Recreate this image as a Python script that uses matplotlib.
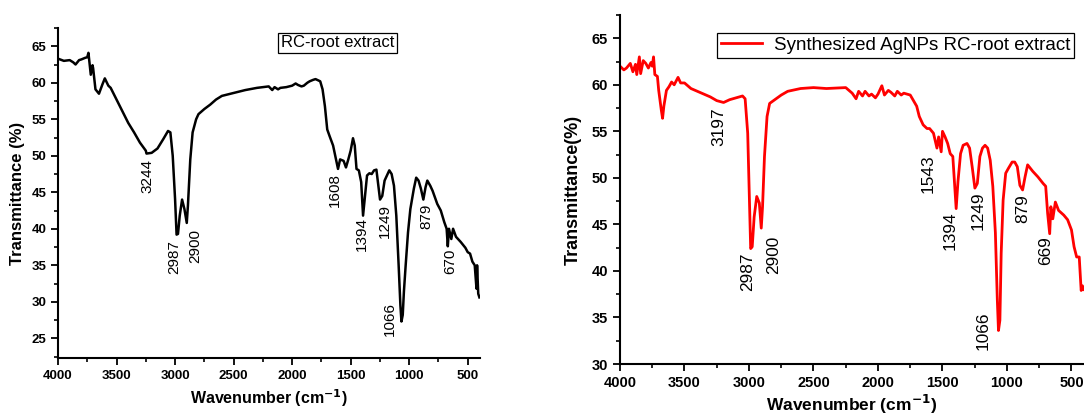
import matplotlib
matplotlib.use("Agg")
import matplotlib.pyplot as plt
from matplotlib.ticker import MultipleLocator
from matplotlib.font_manager import FontProperties

plt.rcParams['font.family'] = ['Liberation Sans', 'DejaVu Sans']

# RC-root extract (black)
wn_rc = [4000, 3950, 3900, 3870, 3850, 3820, 3800, 3770, 3750, 3740, 3730, 3720, 3705, 3700,
         3680, 3650, 3620, 3600, 3570, 3550, 3500, 3450, 3400, 3350, 3300, 3250, 3244,
         3200, 3150, 3100, 3060, 3040, 3020, 3000, 2987, 2975, 2960, 2940, 2920, 2900,
         2890, 2870, 2850, 2820, 2800, 2750, 2700, 2650, 2600, 2500, 2400, 2300, 2200,
         2170, 2150, 2120, 2100, 2050, 2000, 1970, 1950, 1920, 1900, 1870, 1850, 1820,
         1800, 1760, 1740, 1720, 1700, 1680, 1650, 1620, 1608, 1590, 1560, 1540, 1520,
         1500, 1480, 1465, 1450, 1430, 1410, 1394, 1380, 1360, 1340, 1320, 1300, 1280,
         1260, 1249, 1230, 1210, 1190, 1170, 1150, 1130, 1110, 1090, 1075, 1066, 1055,
         1045, 1030, 1010, 990, 960, 940, 920, 900, 879, 860, 845, 820, 800, 760, 730,
         700, 680, 670, 660, 640, 625, 600, 560, 520, 500, 480, 460, 440, 425, 420, 410, 400]
t_rc = [63.3, 63.0, 63.1, 62.8, 62.5, 63.1, 63.2, 63.4, 63.5, 64.1, 62.6, 61.1, 62.4, 62.0,
        59.1, 58.5, 59.8, 60.6, 59.6, 59.3, 57.7, 56.1, 54.5, 53.2, 51.8, 50.7, 50.3,
        50.4, 51.0, 52.3, 53.4, 53.2, 50.0, 44.1, 39.2, 39.3, 41.8, 44.0, 42.7, 40.8,
        43.2, 49.5, 53.2, 55.0, 55.7, 56.4, 57.0, 57.7, 58.2, 58.6, 59.0, 59.3, 59.5,
        59.0, 59.4, 59.1, 59.3, 59.4, 59.6, 59.9, 59.7, 59.5, 59.6, 60.0, 60.2, 60.4,
        60.5, 60.2, 59.1, 56.8, 53.6, 52.7, 51.4, 49.1, 48.2, 49.5, 49.3, 48.4, 49.5,
        50.7, 52.4, 51.4, 48.2, 48.0, 46.4, 41.8, 44.1, 47.3, 47.6, 47.5, 48.0, 48.1,
        45.5, 44.0, 44.5, 46.6, 47.3, 48.0, 47.5, 45.9, 41.8, 35.0, 29.5, 27.3, 28.2,
        31.4, 35.0, 39.5, 42.7, 45.5, 47.0, 46.6, 45.5, 44.0, 45.7, 46.6, 45.9, 45.2,
        43.4, 42.5, 40.9, 40.0, 37.6, 40.0, 38.6, 40.0, 38.9, 38.2, 37.4, 36.8, 36.6,
        35.5, 35.0, 31.8, 35.0, 31.1, 30.6]

# Synthesized AgNPs RC-root extract (red)
wn_ag = [4000, 3970, 3950, 3920, 3900, 3880, 3870, 3850, 3840, 3820, 3800, 3780, 3760, 3750,
         3740, 3730, 3710, 3700, 3680, 3670, 3660, 3640, 3620, 3600, 3580, 3550, 3530,
         3500, 3450, 3400, 3350, 3300, 3250, 3197, 3150, 3100, 3050, 3030, 3010, 3000,
         2987, 2975, 2960, 2940, 2920, 2905, 2895, 2880, 2860, 2840, 2800, 2750, 2700,
         2600, 2500, 2400, 2250, 2200, 2180, 2170, 2150, 2120, 2100, 2070, 2050, 2020,
         2000, 1970, 1950, 1920, 1900, 1870, 1850, 1820, 1800, 1750, 1700, 1680, 1650,
         1620, 1600, 1570, 1543, 1530, 1510, 1500, 1480, 1460, 1440, 1420, 1405, 1394,
         1380, 1360, 1340, 1310, 1290, 1270, 1249, 1230, 1210, 1190, 1170, 1150, 1130,
         1110, 1090, 1075, 1066, 1055, 1045, 1030, 1010, 990, 960, 940, 920, 900, 879,
         860, 840, 800, 760, 720, 700, 685, 669, 660, 645, 625, 600, 560, 530, 500, 480,
         460, 440, 425, 415, 405]
t_ag = [62.0, 61.6, 61.8, 62.3, 61.4, 62.2, 61.1, 63.0, 61.2, 62.6, 62.3, 61.8, 62.4, 62.0,
        63.0, 61.1, 60.9, 59.4, 57.3, 56.4, 57.7, 59.4, 59.8, 60.3, 60.0, 60.8, 60.2,
        60.2, 59.6, 59.3, 59.0, 58.7, 58.3, 58.1, 58.4, 58.6, 58.8, 58.5, 54.8, 49.4,
        42.4, 42.6, 45.8, 48.0, 47.3, 44.6, 46.9, 52.3, 56.6, 58.0, 58.4, 58.9, 59.3,
        59.6, 59.7, 59.6, 59.7, 59.1, 58.7, 58.5, 59.3, 58.8, 59.3, 58.8, 59.0, 58.6,
        59.0, 59.9, 58.9, 59.4, 59.2, 58.8, 59.3, 58.9, 59.1, 58.9, 57.7, 56.6, 55.7,
        55.3, 55.3, 54.8, 53.2, 54.4, 52.8, 55.0, 54.4, 53.7, 52.6, 52.3, 49.0, 46.7,
        49.6, 52.6, 53.5, 53.7, 53.2, 51.2, 48.9, 49.4, 52.3, 53.2, 53.5, 53.2, 51.9,
        49.1, 44.1, 36.9, 33.6, 34.7, 41.9, 47.6, 50.5, 51.0, 51.7, 51.7, 51.2, 49.2, 48.7,
        50.1, 51.4, 50.7, 50.1, 49.4, 49.1, 46.2, 44.0, 46.9, 45.6, 47.4, 46.5, 46.0, 45.5,
        44.4, 42.6, 41.5, 41.5, 37.9, 38.4, 38.0]

rc_peaks = ['3244', '2987', '2900', '1608', '1394', '1249', '1066', '879', '670']
ag_peaks = ['3197', '2987', '2900', '1543', '1394', '1249', '1066', '879', '669']

x_ticks = [4000, 3500, 3000, 2500, 2000, 1500, 1000, 500]
rc_yticks = [25, 30, 35, 40, 45, 50, 55, 60, 65]
ag_yticks = [30, 35, 40, 45, 50, 55, 60, 65]

# label anchor positions (x, top of text)
rc_pos = [(3237, 49.6), (3009, 38.4), (2829, 40.0), (1637, 47.7), (1403, 41.6),
          (1209, 43.4), (1166, 30.0), (851, 43.4), (651, 37.3)]
ag_pos = [(3232, 57.6), (3013, 42.0), (2806, 43.8), (1612, 52.5), (1444, 46.4),
          (1224, 48.5), (1185, 35.6), (875, 48.3), (700, 43.7)]

fig = plt.figure(figsize=(10.84, 4.17), dpi=100)
ax1 = fig.add_axes([58/1084, 1-358/417, 422/1084, 330/417])
ax2 = fig.add_axes([620/1084, 1-364/417, 464/1084, 349/417])


def style(ax, yticks, tsize):
    for s in ['top', 'right']:
        ax.spines[s].set_visible(False)
    for s in ['left', 'bottom']:
        ax.spines[s].set_linewidth(1.5)
    fp = FontProperties(family='Liberation Sans', weight='bold', size=tsize)
    ax.set_xticks(x_ticks, [str(v) for v in x_ticks], fontproperties=fp)
    ax.set_yticks(yticks, [str(v) for v in yticks], fontproperties=fp)
    ax.xaxis.set_minor_locator(MultipleLocator(250))
    ax.yaxis.set_minor_locator(MultipleLocator(2.5))
    ax.tick_params(which='major', direction='out', length=5, width=1.3)
    ax.tick_params(which='minor', direction='out', length=3, width=1.2)


# left panel
ax1.plot(wn_rc, t_rc, color='black', lw=1.8)
style(ax1, rc_yticks, 9.5)
ax1.set_xlim(4000, 395)
ax1.set_ylim(22.3, 67.5)
ax1.set_xlabel('Wavenumber (cm$^{\\mathbf{-1}}$)', fontsize=11.5, fontweight='bold')
ax1.set_ylabel('Transmittance (%)', fontsize=12, fontweight='bold')
ax1.xaxis.set_label_coords(0.5, -0.09)
ax1.yaxis.set_label_coords(-0.078, 0.5)
ax1.text(0.662, 0.955, 'RC-root extract', transform=ax1.transAxes, ha='center', va='center',
         fontsize=12, bbox=dict(boxstyle='square,pad=0.15', fc='white', ec='black', lw=0.9))
for lab, (x, y) in zip(rc_peaks, rc_pos):
    ax1.text(x, y, lab, rotation=90, ha='center', va='top', fontsize=11)

# right panel
ax2.plot(wn_ag, t_ag, color='red', lw=2.0, label='Synthesized AgNPs RC-root extract')
style(ax2, ag_yticks, 10.5)
ax2.set_xlim(4000, 403)
ax2.set_ylim(30, 67.5)
ax2.set_xlabel('Wavenumber (cm$^{\\mathbf{-1}}$)', fontsize=12.5, fontweight='bold')
ax2.set_ylabel('Transmittance(%)', fontsize=13, fontweight='bold')
ax2.xaxis.set_label_coords(0.5, -0.084)
ax2.yaxis.set_label_coords(-0.082, 0.5)
leg = ax2.legend(loc='upper right', bbox_to_anchor=(0.978, 0.948), borderaxespad=0,
                 fancybox=False, edgecolor='black', framealpha=1, fontsize=13.5,
                 handlelength=2.2, borderpad=0.2, handletextpad=0.6)
leg.get_frame().set_linewidth(0.9)
for lab, (x, y) in zip(ag_peaks, ag_pos):
    ax2.text(x, y, lab, rotation=90, ha='center', va='top', fontsize=12.4)

fig.savefig('out.png', dpi=100)
